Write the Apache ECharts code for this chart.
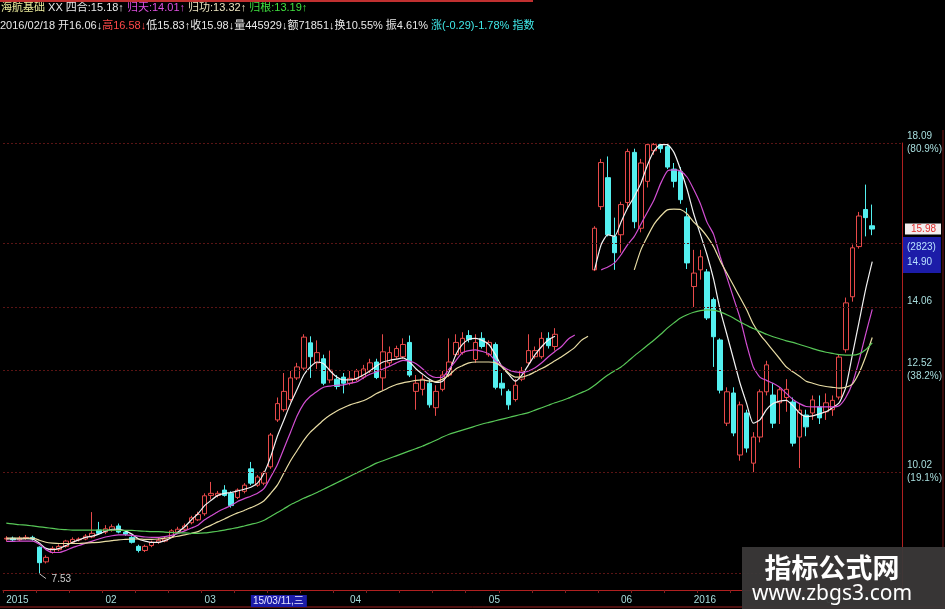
<!DOCTYPE html>
<html><head><meta charset="utf-8">
<script src="https://cdn.jsdelivr.net/npm/echarts@6/dist/echarts.min.js"></script>
<style>html,body{margin:0;padding:0;background:#000;}#c{width:945px;height:609px;}</style>
</head><body><div id="c"></div>
<script>
// ---- trading days (categories) ----
const jan2015 = [12,13,14,15,16,19,20,21,22,23,26,27,28,29,30];
const feb2015 = [2,3,4,5,6,9,10,11,12,13,16,17,25,26,27];
const mar2015 = [2,3,4,5,6,9,10,11,12,13,16,17,18,19,20,23,24,25,26,27,30,31];
const apr2015 = [1,2,3,7,8,9,10,13,14,15,16,17,20,21,22,23,24,27,28,29,30];
const may2015 = [4,5,6,7,8,11,12,13,14,15,18,19,20,21,22,25,26,27,28,29];
const jun2015 = [1,2,3,4,5,8,9,10,11,12,15];
const jan2016 = [4,5,6,7,8,11,12,13,14,15,18,19,20,21,22,25,26,27,28,29];
const feb2016 = [1,2,3,4,5,16,17,18];

// ---- OHLC (null = no candle drawn) ----
const open = [8.38,8.40,8.36,8.40,8.42,8.18,7.82,8.05,8.12,8.20,8.30,8.36,8.38,8.43,8.60,
8.55,8.60,8.70,8.55,8.42,8.20,8.10,8.22,8.30,8.33,8.42,8.55,8.62,8.78,8.85,
9.00,9.45,9.45,9.58,9.50,9.40,9.55,10.10,9.70,9.75,10.15,11.30,11.55,11.80,12.33,12.57,13.19,12.70,12.80,12.28,12.30,12.35,
12.20,12.30,12.35,12.50,12.72,12.33,12.70,12.85,12.85,13.20,12.00,12.05,12.20,11.60,12.05,12.40,12.90,12.95,13.37,12.78,13.30,
12.90,13.15,12.20,12.00,11.80,12.30,12.70,12.85,12.85,13.30,13.10,null,null,null,null,null,
14.98,16.53,17.24,15.80,
15.84,16.63,17.86,16.00,17.15,17.90,18.05,18.00,17.45,17.39,16.28,
14.57,14.98,14.93,14.25,13.26,11.22,11.96,10.44,11.47,10.24,10.88,11.99,11.91,11.72,11.85,11.74,10.88,11.42,11.47,11.62,
11.50,11.55,11.86,13.02,14.32,15.55,16.46,16.06];
const close = [8.40,8.36,8.40,8.42,8.38,7.80,7.93,8.15,8.20,8.33,8.37,8.38,8.45,8.52,8.52,
8.63,8.68,8.55,8.50,8.30,8.10,8.20,8.30,8.35,8.38,8.58,8.62,8.70,8.90,8.98,
9.44,9.50,9.50,9.45,9.20,9.58,9.70,9.75,9.90,10.00,10.93,11.70,12.00,12.33,12.60,13.33,12.85,12.95,12.20,12.52,12.12,12.20,
12.32,12.50,12.55,12.70,12.34,12.97,12.95,13.05,13.15,12.40,12.20,12.30,11.67,12.00,12.40,12.72,13.20,13.30,13.27,13.20,13.10,
13.20,12.10,12.08,11.67,12.15,12.50,13.00,13.00,13.30,13.12,13.40,null,null,null,null,null,
16.00,17.61,15.84,15.40,
16.58,17.88,16.16,17.60,18.05,18.05,17.95,17.50,17.15,16.70,15.15,
14.90,15.30,13.80,13.34,12.03,11.99,10.98,11.67,10.61,10.88,11.99,12.65,11.22,12.04,12.05,10.73,11.54,11.13,11.79,11.35,
11.72,11.78,12.84,14.17,15.52,16.30,16.26,15.98];
const low = [8.33,8.32,8.33,8.36,8.34,7.53,7.78,8.02,8.08,8.17,8.27,8.32,8.35,8.40,8.48,
8.50,8.56,8.52,8.46,8.27,8.05,8.06,8.18,8.26,8.30,8.40,8.52,8.58,8.74,8.82,
8.95,9.35,9.40,9.42,9.15,9.36,9.50,9.70,9.66,9.70,10.10,11.25,11.50,11.75,12.28,12.52,12.33,12.55,12.15,12.20,12.05,11.95,
12.15,12.25,12.30,12.45,12.30,12.03,12.60,12.80,12.80,12.35,11.55,11.90,11.60,11.40,12.00,12.35,12.85,12.90,13.20,12.70,13.05,
12.85,12.05,11.90,11.55,11.75,12.25,12.65,12.80,12.80,13.05,13.00,null,null,null,null,null,
14.95,16.45,15.80,14.98,
15.40,16.50,16.00,15.90,17.00,17.80,17.85,17.45,17.00,16.60,15.00,
14.07,14.74,13.75,12.60,11.95,11.15,10.90,10.30,10.50,10.02,10.75,11.90,11.10,11.20,11.50,10.65,10.12,10.90,11.30,11.20,
11.30,11.40,11.80,12.95,14.20,15.50,15.80,15.83];
const high = [8.45,8.44,8.45,8.48,8.46,8.20,7.98,8.20,8.25,8.36,8.42,8.42,8.50,9.04,8.80,
8.72,8.74,8.76,8.60,8.45,8.24,8.24,8.34,8.40,8.44,8.62,8.68,8.76,8.95,9.05,
9.50,9.78,9.56,9.70,9.55,9.62,9.75,10.27,9.95,10.05,10.98,11.85,12.45,12.50,12.70,13.40,13.35,13.25,12.90,13.00,12.40,12.45,
12.50,12.55,12.65,12.80,12.80,13.40,13.10,13.12,13.30,13.37,12.40,12.40,12.30,12.15,12.50,13.30,13.40,13.45,13.50,13.40,13.45,
13.25,13.20,12.45,12.05,12.30,12.60,13.40,13.10,13.45,13.45,13.55,null,null,null,null,null,
16.05,17.70,17.76,16.26,
16.65,17.95,17.95,17.70,18.09,18.09,18.09,18.09,17.60,17.50,16.50,
15.47,15.47,15.00,14.30,13.30,12.10,12.10,11.75,11.55,11.00,12.05,12.75,12.20,12.10,12.30,11.85,11.70,11.55,11.90,11.90,
11.95,11.90,12.90,14.30,15.60,16.40,17.07,16.58];

// ---- moving-average lines ----
const ma5 = [8.38,8.38,8.38,8.39,8.38,8.28,8.15,8.12,8.15,8.22,8.30,8.36,8.42,8.45,8.50,
8.57,8.62,8.62,8.58,8.50,8.38,8.33,8.30,8.30,8.34,8.42,8.55,8.68,8.85,9.00,
9.20,9.33,9.45,9.50,9.52,9.56,9.60,9.65,9.75,10.00,10.40,10.90,11.30,11.70,12.05,12.40,12.60,12.72,12.68,12.50,12.35,12.28,
12.28,12.32,12.40,12.50,12.62,12.72,12.76,12.79,12.82,12.72,12.55,12.42,12.30,12.22,12.25,12.48,12.90,13.15,13.28,13.30,13.25,
13.15,12.90,12.60,12.42,12.25,12.40,12.65,12.90,13.10,13.26,13.35,null,null,null,null,null,
14.98,15.60,15.84,15.80,
16.15,16.50,16.78,17.10,17.55,17.90,18.05,18.05,17.86,17.44,16.95,
16.35,15.85,15.35,14.75,14.00,13.40,12.80,12.20,11.70,11.22,11.30,11.55,11.70,11.76,11.78,11.65,11.47,11.38,11.40,11.45,
11.50,11.60,11.72,12.10,12.90,13.70,14.50,15.18];
const ma10 = [8.32,8.32,8.33,8.33,8.33,8.25,8.12,8.05,8.05,8.10,8.17,8.22,8.28,8.33,8.38,
8.43,8.46,8.48,8.48,8.47,8.45,8.43,8.42,8.42,8.44,8.47,8.52,8.58,8.65,8.72,
8.85,8.95,9.05,9.13,9.20,9.30,9.37,9.43,9.50,9.62,9.90,10.20,10.60,11.00,11.40,11.70,11.88,12.00,12.10,12.13,12.15,12.16,
12.20,12.23,12.33,12.42,12.48,12.55,12.62,12.70,12.76,12.74,12.68,12.55,12.40,12.34,12.35,12.55,12.75,12.95,13.00,13.02,12.98,
12.92,12.75,12.62,12.52,12.48,12.46,12.50,12.58,12.70,12.85,12.98,13.10,13.28,13.38,null,null,
null,14.98,15.05,15.15,
15.35,15.60,15.80,16.10,16.40,16.70,17.10,17.40,17.43,17.40,17.25,
16.95,16.60,16.15,15.85,15.30,14.80,14.30,13.80,13.15,12.60,12.35,12.27,12.20,12.10,11.95,11.80,11.70,11.63,11.62,11.62,
11.62,11.62,11.65,11.85,12.20,12.75,13.40,14.01];
const ma20 = [8.40,8.40,8.40,8.40,8.40,8.35,8.30,8.28,8.27,8.27,8.27,8.27,8.28,8.29,8.30,
8.32,8.34,8.36,8.37,8.38,8.38,8.37,8.37,8.38,8.40,8.42,8.45,8.48,8.52,8.56,
8.65,8.72,8.80,8.87,8.95,9.02,9.08,9.15,9.22,9.32,9.50,9.70,10.00,10.30,10.55,10.80,11.00,11.15,11.30,11.42,11.52,11.60,
11.67,11.72,11.77,11.85,11.95,12.02,12.10,12.17,12.21,12.24,12.27,12.28,12.25,12.24,12.30,12.40,12.55,12.63,12.70,12.72,12.72,
12.72,12.70,12.60,12.45,12.35,12.35,12.40,12.48,12.56,12.65,12.75,12.85,12.96,13.08,13.25,13.35,
null,null,null,null,
null,null,14.98,15.47,15.80,16.10,16.30,16.45,16.47,16.46,16.35,
16.15,16.00,15.80,15.55,15.20,14.90,14.60,14.30,14.00,13.65,13.40,13.20,13.00,12.80,12.60,12.48,12.37,12.25,12.20,12.15,
12.12,12.10,12.08,12.10,12.18,12.45,12.85,13.32];
const ma60 = [8.77,8.75,8.73,8.72,8.70,8.68,8.66,8.64,8.62,8.61,8.60,8.60,8.60,8.60,8.60,
8.60,8.60,8.59,8.59,8.59,8.58,8.57,8.56,8.56,8.55,8.54,8.53,8.53,8.52,8.52,
8.53,8.55,8.57,8.60,8.63,8.66,8.70,8.74,8.78,8.84,8.93,9.03,9.12,9.22,9.30,9.38,9.45,9.52,9.60,9.68,9.76,9.84,
9.92,10.00,10.08,10.16,10.24,10.30,10.36,10.42,10.48,10.54,10.60,10.66,10.73,10.80,10.88,10.95,11.00,11.05,11.10,11.15,11.20,
11.24,11.28,11.32,11.36,11.40,11.44,11.48,11.54,11.60,11.66,11.72,11.77,11.83,11.90,11.97,12.04,
12.15,12.28,12.40,12.50,
12.60,12.73,12.87,13.00,13.13,13.26,13.40,13.55,13.68,13.80,13.88,
13.94,13.98,14.00,13.99,13.95,13.88,13.80,13.70,13.62,13.54,13.47,13.40,13.34,13.29,13.24,13.20,13.15,13.10,13.05,13.00,
12.96,12.93,12.90,12.89,12.89,12.92,13.02,13.19];

// ---- right-axis levels ----
const yTickValues = [18.09, 14.06, 12.52, 10.02];
const yTickPct = ['(80.9%)', '', '(38.2%)', '(19.1%)'];
const gridLevels = [18.09, 15.62, 14.06, 12.52, 10.02, 7.53];
const lastPrice = 15.98;
const boxPrice = 14.90;

// ---- build categories ----
function mk(y, m, arr){ return arr.map(d => y + '/' + String(m).padStart(2,'0') + '/' + String(d).padStart(2,'0')); }
const categories = [].concat(mk(2015,1,jan2015), mk(2015,2,feb2015), mk(2015,3,mar2015), mk(2015,4,apr2015),
  mk(2015,5,may2015), mk(2015,6,jun2015), mk(2016,1,jan2016), mk(2016,2,feb2016));
const highlightDay = '2015/03/11';
function labelFor(i){
  const c = categories[i]; if (!c) return null;
  if (c === highlightDay) return '{hl|15/03/11,三}';
  const p = categories[i-1];
  if (!p || p.slice(0,7) !== c.slice(0,7)) {
    const m = c.slice(5,7);
    return m === '01' ? c.slice(0,4) : m;
  }
  return null;
}
const candleData = open.map((o,i) => o == null ? '-' : [o, close[i], low[i], high[i]]);
const lowIdx = low.indexOf(Math.min.apply(null, low.filter(v => v != null)));

const chart = echarts.init(document.getElementById('c'));
const mkLine = (c) => ({type:'line', symbol:'none', smooth:0.2, connectNulls:false, lineStyle:{color:c, width:1.2}, z:3, silent:true});
const font = 'Liberation Sans, Noto Sans CJK SC, sans-serif';
const tok = (c) => ({fill:c, fontSize:11, fontFamily:font});
const R = {w:tok('#e8e8e8'), y:tok('#ecec9c'), m:tok('#e050e0'), b:tok('#ece4c0'), g:tok('#40e040'), r:tok('#ff4848'), c:tok('#40e8e8')};
const line1 = '{y|海航基础} {w|XX} {w|四合:15.18↑} {m|归天:14.01↑} {b|归功:13.32↑} {g|归根:13.19↑}';
const line2 = '{w|2016/02/18 开16.06↓}{r|高16.58↓}{w|低15.83↑收15.98↓量445929↓额71851↓换10.55% 振4.61% }{c|涨(-0.29)-1.78% 指数}';
const graphics = [
  {type:'text', left:1, top:2, style:{text:line1, rich:R, fill:'#e8e8e8', fontSize:11, fontFamily:font}},
  {type:'text', left:0, top:20, style:{text:line2, rich:R, fill:'#e8e8e8', fontSize:11, fontFamily:font}},
  {type:'line', shape:{x1:0,y1:1,x2:533,y2:1}, style:{stroke:'#c03030', lineWidth:2}},
  {type:'line', shape:{x1:0,y1:607,x2:945,y2:607}, style:{stroke:'#a02020', lineWidth:1}},
  {type:'line', shape:{x1:943,y1:130,x2:943,y2:609}, style:{stroke:'#701818', lineWidth:1}},
  {type:'rect', shape:{x:742,y:547,width:203,height:62}, style:{fill:'rgba(58,56,56,0.95)'}, z:100},
  {type:'text', x:832, y:568, style:{text:'指标公式网', font:'bold 27px Noto Sans CJK SC', fill:'#ffffff', align:'center', verticalAlign:'middle'}, z:101},
  {type:'text', x:832, y:594, style:{text:'www.zbgs3.com', font:'21px Noto Sans, sans-serif', fill:'#ffffff', align:'center', verticalAlign:'middle'}, z:101}
];

const option = {
  backgroundColor:'#000000',
  animation:false,
  grid:{left:3, right:40, top:143, bottom:19},
  xAxis:{type:'category', data:categories, max:135, boundaryGap:true,
    axisLine:{lineStyle:{color:'#b02020', width:1}},
    axisTick:{show:true, interval:4, length:3, lineStyle:{color:'#802020'}},
    splitLine:{show:false},
    axisLabel:{interval:(i)=>labelFor(i)!==null, formatter:(v,i)=>labelFor(i)||'', color:'#a8dede', fontSize:10, fontFamily:font, align:'left', margin:5,
      rich:{hl:{backgroundColor:'#1c1ca8', color:'#e8e8ff', padding:[1,3,1,2], fontSize:10, fontFamily:'Liberation Sans, Noto Sans CJK SC'}}}
  },
  yAxis:{type:'value', position:'right', min:7.13, max:18.09, scale:true,
    axisLine:{show:true, lineStyle:{color:'#b02020'}}, axisTick:{show:false}, splitLine:{show:false},
    axisLabel:{customValues:yTickValues, margin:5, color:'#a8dede', fontSize:10, fontFamily:font, padding:[13,0,0,0], lineHeight:13,
      formatter:(v)=>{ const k = yTickValues.indexOf(v); return v.toFixed(2) + '\n' + (k>=0 && yTickPct[k] ? yTickPct[k] : ' '); }}
  },
  graphic:graphics,
  series:[
    {type:'candlestick', data:candleData, barWidth:5, clip:false,
      itemStyle:{color:'#000000', color0:'#54f0f0', borderColor:'#e84a4a', borderColor0:'#54f0f0', borderWidth:1},
      markLine:{silent:true, symbol:'none', animation:false,
        data:[].concat(gridLevels.map(v=>({yAxis:v, lineStyle:{color:'#5a1414', type:[2,2], width:1}, label:{show:false}})),
          [{yAxis:lastPrice, lineStyle:{color:'rgba(0,0,0,0)', width:0}, label:{show:true, position:'end', distance:3, formatter:()=>lastPrice.toFixed(2), color:'#e03030', backgroundColor:'#f2eeee', padding:[1,5,0,6], fontSize:10, fontFamily:font}},
           {yAxis:boxPrice, lineStyle:{color:'rgba(0,0,0,0)', width:0}, label:{show:true, position:'end', distance:1, offset:[0,-18], formatter:()=>'(2823)\n'+boxPrice.toFixed(2), color:'#b8e0ff', backgroundColor:'#1c1ca8', padding:[3,5,3,4], lineHeight:15, fontSize:10, fontFamily:font}},
           [{coord:[lowIdx, low[lowIdx]], lineStyle:{color:'#bdbdbd', width:1, type:'solid'}, label:{show:false}}, {coord:[lowIdx+1, low[lowIdx]-0.12]}]])
      },
      markPoint:{silent:true, symbol:'circle', symbolSize:1, itemStyle:{color:'transparent'},
        data:[{type:'min', valueDim:'lowest', label:{show:true, formatter:(p)=>Number(p.value).toFixed(2), color:'#cfcfcf', fontSize:10, fontFamily:font, offset:[22,6]}}]}
    },
    Object.assign(mkLine('#f2f2f2'), {data:ma5, name:'四合'}),
    Object.assign(mkLine('#d24ed2'), {data:ma10, name:'归天'}),
    Object.assign(mkLine('#e8dca4'), {data:ma20, name:'归功'}),
    Object.assign(mkLine('#58c858'), {data:ma60, name:'归根'})
  ]
};
chart.setOption(option);
</script></body></html>
